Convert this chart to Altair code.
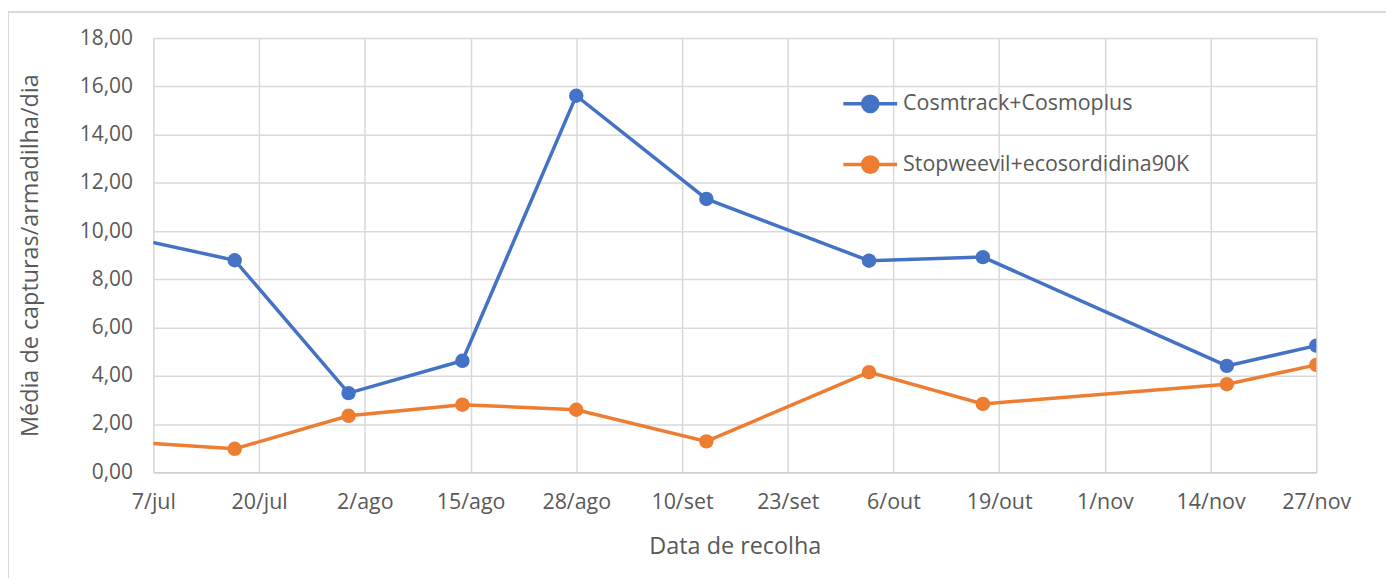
import altair as alt
import pandas as pd

dates = ["2022-07-03", "2022-07-17", "2022-07-31", "2022-08-14", "2022-08-28",
         "2022-09-13", "2022-10-03", "2022-10-17", "2022-11-16", "2022-11-27"]
cosmtrack = [9.81, 8.79, 3.28, 4.62, 15.61, 11.33, 8.77, 8.92, 4.41, 5.25]
stopweevil = [1.28, 0.97, 2.34, 2.80, 2.59, 1.28, 4.15, 2.83, 3.65, 4.45]
series_names = ["Cosmtrack+Cosmoplus", "Stopweevil+ecosordidina90K"]
series_colors = ["#4472C4", "#ED7D31"]
tick_dates = [(2022, 7, 7), (2022, 7, 20), (2022, 8, 2), (2022, 8, 15), (2022, 8, 28),
              (2022, 9, 10), (2022, 9, 23), (2022, 10, 6), (2022, 10, 19), (2022, 11, 1),
              (2022, 11, 14), (2022, 11, 27)]
y_ticks = [0, 2, 4, 6, 8, 10, 12, 14, 16, 18]

rows = []
for d, v in zip(dates, cosmtrack):
    rows.append({"date": d, "value": v, "series": series_names[0]})
for d, v in zip(dates, stopweevil):
    rows.append({"date": d, "value": v, "series": series_names[1]})
df = pd.DataFrame(rows)

FONT = "Open Sans"
GRAY = "#595959"

tick_values = [alt.DateTime(year=y, month=m, date=dd, utc=True) for (y, m, dd) in tick_dates]

x_enc = alt.X(
    "date:T",
    scale=alt.Scale(type="utc",
                    domain=[alt.DateTime(year=2022, month=7, date=7, utc=True),
                            alt.DateTime(year=2022, month=11, date=27, utc=True)]),
    axis=alt.Axis(
        values=tick_values,
        labelExpr="utcdate(datum.value) + '/' + ['jan','fev','mar','abr','mai','jun','jul','ago','set','out','nov','dez'][utcmonth(datum.value)]",
        title="Data de recolha",
        grid=True,
        gridColor="#d9d9d9",
        gridWidth=1.5,
        domainColor="#cfcfcf",
        domainWidth=1.5,
        ticks=False,
        labelPadding=19,
        labelFontSize=21.5,
        labelColor=GRAY,
        labelFont=FONT,
        labelOverlap=False,
        labelFlush=False,
        titleFontSize=23.5,
        titleColor=GRAY,
        titleFont=FONT,
        titleFontWeight="normal",
        titlePadding=22,
    ),
)

y_enc = alt.Y(
    "value:Q",
    scale=alt.Scale(domain=[0, 18], nice=False),
    axis=alt.Axis(
        values=y_ticks,
        labelExpr="replace(format(datum.value, '.2f'), '.', ',')",
        title="Média de capturas/armadilha/dia",
        grid=True,
        gridColor="#d9d9d9",
        gridWidth=1.5,
        domain=False,
        ticks=False,
        labelPadding=21,
        labelFontSize=21,
        labelColor=GRAY,
        labelFont=FONT,
        titleFontSize=23.5,
        titleColor=GRAY,
        titleFont=FONT,
        titleFontWeight="normal",
        titlePadding=37,
    ),
)

legend_symbol = ("M-1,0L1,0M0.285,0A0.285,0.285,0,1,1,-0.285,0"
                 "A0.285,0.285,0,1,1,0.285,0Z")

color_scale = alt.Scale(domain=series_names, range=series_colors)
legend = alt.Legend(
    title=None,
    orient="none",
    legendX=691,
    legendY=37,
    symbolType=legend_symbol,
    symbolSize=2916,
    symbolStrokeWidth=3.5,
    symbolOpacity=1,
    labelFontSize=21.5,
    labelFont=FONT,
    labelColor=GRAY,
    labelOffset=4,
    labelLimit=500,
    rowPadding=17,
    padding=0,
)

base = alt.Chart(df)

lines = base.mark_line(strokeWidth=3.5, clip=True).encode(
    x=x_enc, y=y_enc,
    color=alt.Color("series:N", scale=color_scale, legend=legend),
    order=alt.Order("date:T"),
)
points = base.mark_point(filled=True, size=210, opacity=1, clip=True).encode(
    x=x_enc, y=y_enc,
    color=alt.Color("series:N", scale=color_scale, legend=legend),
)

border_v = alt.Chart(df).mark_rule(color="#d9d9d9", strokeWidth=1.5).encode(
    x=alt.value(-146), y=alt.value(-26), y2=alt.value(560)
)
border_h = alt.Chart(df).mark_rule(color="#d9d9d9", strokeWidth=1.5).encode(
    x=alt.value(-146), x2=alt.value(1240), y=alt.value(-26)
)

chart = alt.layer(border_v, border_h, lines, points).properties(
    width=1168,
    height=436,
    autosize=alt.AutoSizeParams(type="none"),
    padding={"left": 146, "top": 29, "right": 70, "bottom": 105},
).configure_view(stroke=None).configure(background="white")

chart.save("out.html", embed_options={"renderer": "svg", "actions": False})
